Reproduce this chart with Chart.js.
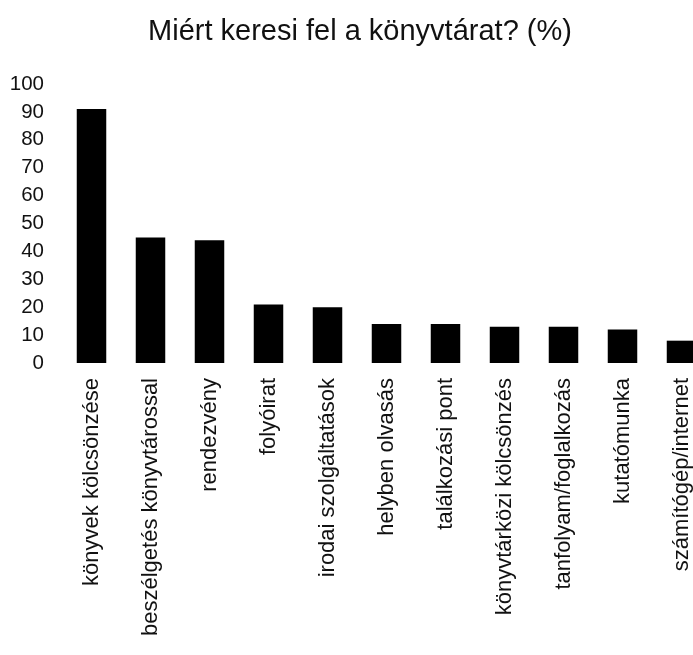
<!DOCTYPE html>
<html>
<head>
<meta charset="utf-8">
<script src="https://cdn.jsdelivr.net/npm/chart.js@4/dist/chart.umd.min.js"></script>
<style>
  html, body { margin: 0; padding: 0; background: #fff; overflow: hidden; }
  #wrap { width: 720px; height: 655px; }
</style>
</head>
<body>
<div id="wrap"><canvas id="chart" width="720" height="655"></canvas></div>
<script>
const title = "Miért keresi fel a könyvtárat? (%)";
const categories = [
  "könyvek kölcsönzése",
  "beszélgetés könyvtárossal",
  "rendezvény",
  "folyóirat",
  "irodai szolgáltatások",
  "helyben olvasás",
  "találkozási pont",
  "könyvtárközi kölcsönzés",
  "tanfolyam/foglalkozás",
  "kutatómunka",
  "számítógép/internet"
];
const values = [91, 45, 44, 21, 20, 14, 14, 13, 13, 12, 8];
const yTicks = { min: 0, max: 100, step: 10 };

const font = "'Liberation Sans', Arial, sans-serif";

new Chart(document.getElementById("chart").getContext("2d"), {
  type: "bar",
  data: {
    labels: categories,
    datasets: [{
      data: values,
      backgroundColor: "#000",
      borderWidth: 0,
      barPercentage: 0.5,
      categoryPercentage: 1
    }]
  },
  options: {
    responsive: false,
    animation: false,
    layout: { padding: 0 },
    plugins: {
      legend: { display: false },
      tooltip: { enabled: false },
      title: {
        display: true,
        text: title,
        color: "#111",
        font: { family: font, size: 29, weight: "normal" },
        padding: { top: 14.5, bottom: 34.7 }
      }
    },
    scales: {
      x: {
        grid: { display: false },
        border: { display: false },
        ticks: {
          color: "#111",
          font: { family: font, size: 22 },
          minRotation: 90,
          maxRotation: 90,
          autoSkip: false,
          padding: 7
        },
        afterFit(scale) { scale.height = 655 - 363; }
      },
      y: {
        min: yTicks.min,
        max: yTicks.max,
        grid: { display: false },
        border: { display: false },
        ticks: {
          stepSize: yTicks.step,
          color: "#111",
          font: { family: font, size: 20.5 },
          padding: 10
        },
        afterFit(scale) { scale.width = 62; }
      },
      // empty right axis only to keep the plot edge where the original has it
      y2: {
        position: "right",
        grid: { display: false },
        border: { display: false },
        ticks: { display: false },
        afterFit(scale) { scale.width = 9; }
      }
    }
  }
});
</script>
</body>
</html>
